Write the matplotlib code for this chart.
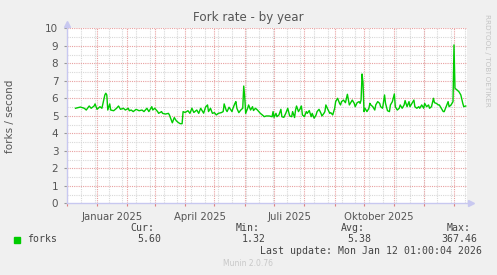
import numpy as np
import matplotlib
matplotlib.use("Agg")
import matplotlib.pyplot as plt
import matplotlib.dates as mdates
from matplotlib.patches import Rectangle

# days since 2025-01-01 and fork rate (forks / second)
days = [-22, -17, -13, -11, -8, -6, -3, -2,
        0, 3, 5, 8, 9, 10, 11, 13,
        14, 17, 20, 22, 24, 27, 29, 32,
        33, 35, 37, 40, 43, 46, 48, 51,
        53, 56, 57, 59, 62, 63, 66, 67,
        70, 73, 74, 77, 79, 81, 83, 85,
        87, 88, 90, 93, 95, 97, 99, 102,
        104, 106, 108,
        109, 111, 113, 114, 116, 118, 120, 122,
        124, 127, 129, 130, 132, 133, 135, 138,
        139, 141, 142, 143, 145, 147, 149, 150,
        151, 152, 154, 155, 157, 159, 160, 162,
        164, 167, 169, 171, 173, 176, 179, 180,
        181, 183, 184, 186, 188, 189, 191, 193,
        195, 197, 199, 200, 202, 203, 204, 206,
        208, 209, 210, 212, 214, 215, 217, 219,
        220, 222, 224, 225, 227, 229, 230, 232,
        233, 234, 236, 238, 239, 241, 243, 244,
        246, 248, 249,
        250, 252, 254, 256, 258, 259, 261, 263,
        264, 266, 268, 269, 270, 271, 272, 273,
        274, 276, 278, 279, 280, 282, 284, 285,
        287, 289, 290, 292, 294, 295, 297, 299,
        300, 302, 304, 305, 307, 309, 310, 312,
        314, 315, 317, 319, 320, 322, 324, 325,
        327, 329, 330, 332, 334, 335, 337, 339,
        340, 342, 344, 345, 347, 349, 350, 352,
        354, 355, 357, 359, 360, 362, 364, 365,
        366, 368, 370, 372, 374, 375, 377]
forks = [5.43, 5.50, 5.43, 5.33, 5.56, 5.43, 5.56, 5.68,
         5.37, 5.52, 5.43, 6.19, 6.29, 6.19, 5.33, 5.68,
         5.33, 5.29, 5.43, 5.56, 5.37, 5.43, 5.33, 5.43,
         5.29, 5.33, 5.24, 5.37, 5.29, 5.33, 5.24, 5.43,
         5.24, 5.52, 5.33, 5.43, 5.24, 5.14, 5.24, 5.14,
         5.10, 5.14, 5.05, 4.60, 4.90, 4.72, 4.62, 4.55,
         4.55, 5.24, 5.19, 5.29, 5.14, 5.43, 5.19, 5.33,
         5.14, 5.43, 5.24,
         5.15, 5.50, 5.62, 5.24, 5.43, 5.14, 5.18, 5.05,
         5.14, 5.18, 5.24, 5.68, 5.33, 5.24, 5.49, 5.24,
         5.43, 5.71, 5.81, 5.43, 5.18, 5.33, 5.43, 6.70,
         6.10, 5.14, 5.43, 5.62, 5.33, 5.52, 5.30, 5.43,
         5.33, 5.14, 5.05, 4.95, 4.99, 4.99, 4.95, 5.24,
         4.91, 5.14, 4.95, 5.05, 5.37, 4.95, 4.91, 5.14,
         5.43, 4.99, 4.95, 5.24, 4.90, 5.33, 5.56, 5.24,
         5.43, 5.56, 5.05, 4.95, 5.24, 5.14, 5.30, 4.95,
         5.14, 4.86, 5.05, 5.24, 5.37, 5.14, 4.99, 5.14,
         5.24, 5.62, 5.37, 5.14, 5.18, 5.05, 5.43, 5.81,
         6.00, 5.71, 5.62,
         5.81, 5.90, 5.75, 6.23, 5.62, 5.71, 5.90, 5.71,
         5.52, 5.75, 5.81, 5.71, 5.90, 7.39, 6.86, 5.24,
         5.43, 5.24, 5.43, 5.71, 5.62, 5.52, 5.33, 5.62,
         5.81, 5.71, 5.52, 5.43, 6.19, 5.71, 5.29, 5.24,
         5.62, 5.81, 6.25, 5.52, 5.33, 5.43, 5.62, 5.43,
         5.62, 5.87, 5.52, 5.81, 5.52, 5.71, 5.90, 5.52,
         5.43, 5.52, 5.43, 5.62, 5.43, 5.71, 5.52, 5.62,
         5.43, 5.52, 6.00, 5.75, 5.71, 5.62, 5.62, 5.43,
         5.24, 5.24, 5.52, 5.81, 5.52, 5.62, 5.81, 9.05,
         6.57, 6.48, 6.38, 6.19, 5.71, 5.52, 5.56]

month_labels = ["Januar 2025", "April 2025", "Juli 2025", "Oktober 2025"]
label_months = ["2025-01-01", "2025-04-01", "2025-07-01", "2025-10-01"]
stat_names = ["Cur:", "Min:", "Avg:", "Max:"]
stat_values = ["5.60", "1.32", "5.38", "367.46"]

W, H = 497, 275
base = np.datetime64("2025-01-01")
d0 = mdates.date2num(base)
x = d0 + np.array(days, dtype=float)

fig = plt.figure(figsize=(W / 100, H / 100), dpi=100, facecolor="#f0f0f0")
ax = fig.add_axes([66.7 / W, 1 - 203.3 / H, 400.3 / W, 175 / H])
ax.set_facecolor("white")

ax.set_xlim(d0 - 22, d0 + 378.3)
ax.set_ylim(0, 10)

txt = "#555555"
major_c = "#e8a0a0"
minor_c = "#d8d8d8"
dots = (0, (1, 1))

# grid
month_starts = np.arange(np.datetime64("2024-12"), np.datetime64("2026-02"), np.timedelta64(1, "M"))
month_x = [mdates.date2num(np.datetime64(m, "D")) for m in month_starts]
fortnights = d0 - 16 + 14 * np.arange(0, 30)
for v in fortnights:
    ax.axvline(v, color=minor_c, lw=0.8, ls=dots, zorder=1)
for v in np.arange(0.5, 10, 1.0):
    ax.axhline(v, color=minor_c, lw=0.8, ls=dots, zorder=1)
for v in month_x:
    ax.axvline(v, color=major_c, lw=0.8, ls=dots, zorder=1)
for v in range(1, 11):
    ax.axhline(v, color=major_c, lw=0.8, ls=dots, zorder=1)

ax.plot(x, forks, color="#00cc00", lw=1.0, zorder=3)

for s in ["top", "right"]:
    ax.spines[s].set_visible(False)
for s in ["left", "bottom"]:
    ax.spines[s].set_color("#c8c8f0")
    ax.spines[s].set_linewidth(1.0)
ax.plot([0], [1.025], marker="^", color="#c8c8f0", ms=4, transform=ax.transAxes, clip_on=False)
ax.plot([1.01], [0], marker=">", color="#c8c8f0", ms=4, transform=ax.transAxes, clip_on=False)

ax.set_yticks(range(0, 11))
ax.tick_params(axis="y", length=2, color="#999999", labelsize=7.5, labelcolor=txt, pad=4)
ax.set_xticks(month_x)
ax.set_xticklabels([])
ax.tick_params(axis="x", length=2, color="#e08080")
for lab, m in zip(month_labels, label_months):
    ax.text(mdates.date2num(np.datetime64(m)) + 15.5, -0.5, lab, ha="center", va="top",
            fontsize=7.3, color=txt, transform=ax.transData, clip_on=False)

fig.text(0.5, 1 - 17 / H, "Fork rate - by year", ha="center", va="center", fontsize=8.6, color=txt)
fig.text(10 / W, 1 - 116 / H, "forks / second", rotation=90, ha="center", va="center",
         fontsize=7.5, color=txt)
fig.text(487 / W, 1 - 14 / H, "RRDTOOL / TOBI OETIKER", rotation=270, ha="center", va="top",
         fontsize=5.2, color="#c4c4c4")

mono = "DejaVu Sans Mono"
fig.patches.append(Rectangle((14 / W, 1 - 242.5 / H), 6 / W, 6 / H, color="#00cc00",
                             transform=fig.transFigure))
fig.text(27 / W, 1 - 239.3 / H, "forks", ha="left", va="center", family=mono, fontsize=7.1, color="#444444")
val_right = [161, 266, 371.7, 477.3]
for name, val, r in zip(stat_names, stat_values, val_right):
    fig.text((r - 6.5) / W, 1 - 227.7 / H, name, ha="right", va="center", family=mono,
             fontsize=7.1, color="#444444")
    fig.text(r / W, 1 - 239.3 / H, val, ha="right", va="center", family=mono,
             fontsize=7.1, color="#444444")
fig.text(482.3 / W, 1 - 251 / H, "Last update: Mon Jan 12 01:00:04 2026", ha="right", va="center",
         family=mono, fontsize=7.1, color="#444444")
fig.text(248 / W, 1 - 264 / H, "Munin 2.0.76", ha="center", va="center", fontsize=5.5, color="#c8c8c8")

fig.savefig("out.png", dpi=100, facecolor=fig.get_facecolor())
